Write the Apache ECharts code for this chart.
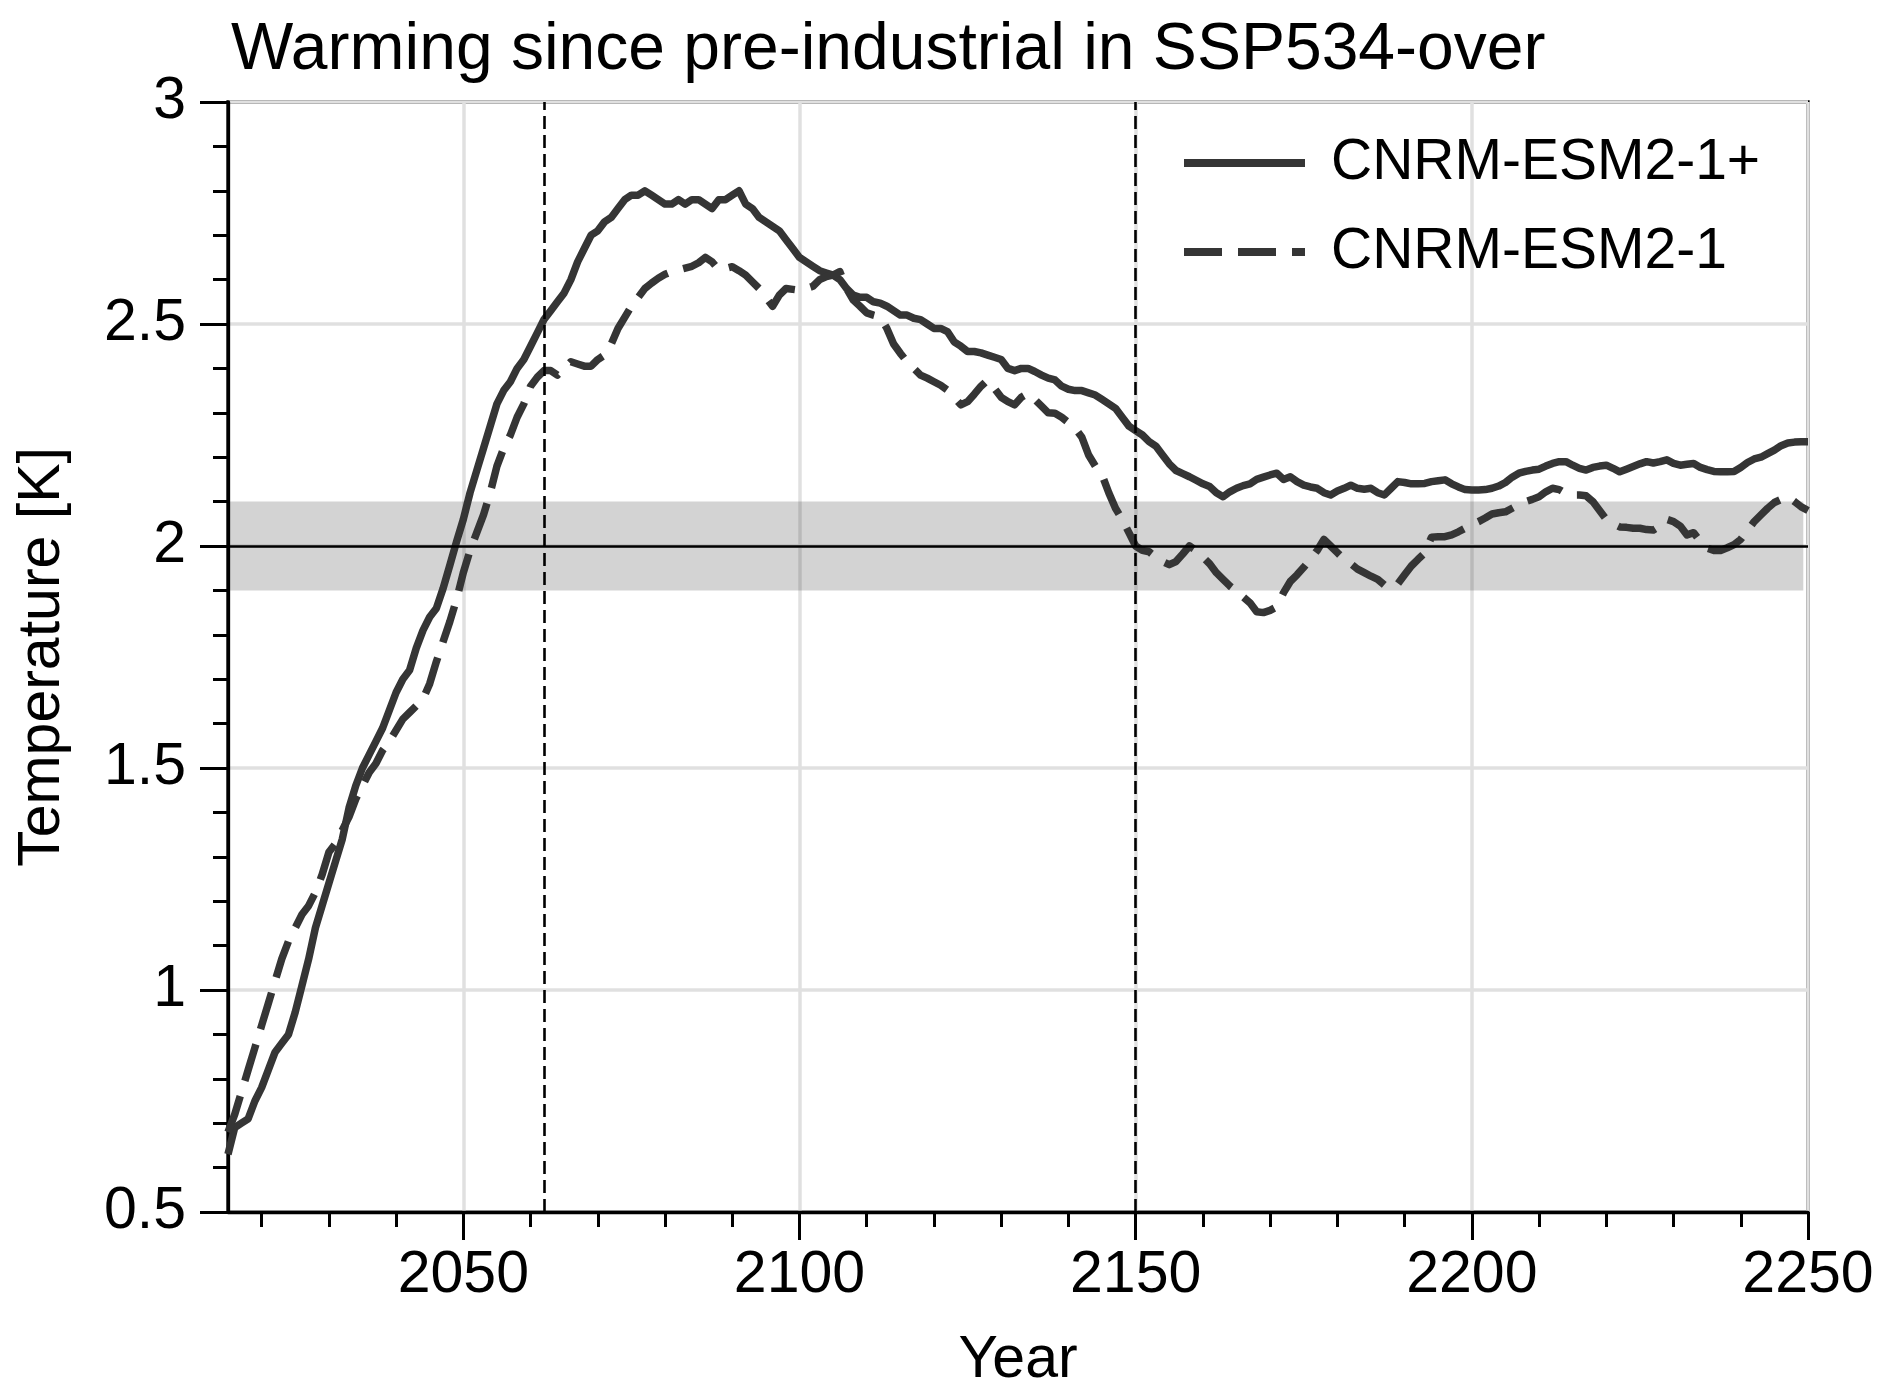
<!DOCTYPE html>
<html>
<head>
<meta charset="utf-8">
<script src="https://cdn.jsdelivr.net/npm/echarts@6/dist/echarts.min.js"></script>
<style>
  html, body { margin: 0; padding: 0; background: #fff; }
  #chart { width: 1892px; height: 1400px; }
</style>
</head>
<body>
<div id="chart"></div>
<script>
// ---- Data ----
const startYear = 2015;           // first year of both series (annual values)
const seriesNames = ['CNRM-ESM2-1+', 'CNRM-ESM2-1'];

// CNRM-ESM2-1+ (solid), 2015..2250
const tempPlus = [
  0.63, 0.69, 0.70, 0.71, 0.75, 0.78, 0.82, 0.86, 0.88, 0.90,
  0.95, 1.01, 1.07, 1.14, 1.19, 1.24, 1.29, 1.34, 1.41, 1.46,
  1.50, 1.53, 1.56, 1.59, 1.63, 1.67, 1.70, 1.72, 1.77, 1.81,
  1.84, 1.86, 1.905, 1.957, 2.01, 2.06, 2.12, 2.17, 2.22, 2.27,
  2.32, 2.35, 2.37, 2.40, 2.42, 2.45, 2.48, 2.51, 2.53, 2.55,
  2.57, 2.60, 2.64, 2.67, 2.70, 2.71, 2.73, 2.74, 2.76, 2.78,
  2.79, 2.79, 2.80, 2.79, 2.78, 2.77, 2.77, 2.78, 2.77, 2.78,
  2.78, 2.77, 2.76, 2.78, 2.78, 2.79, 2.80, 2.77, 2.76, 2.74,
  2.73, 2.72, 2.71, 2.69, 2.67, 2.65, 2.64, 2.63, 2.62, 2.615,
  2.61, 2.60, 2.58, 2.565, 2.56, 2.56, 2.55, 2.547, 2.54, 2.53,
  2.52, 2.52, 2.513, 2.51, 2.50, 2.49, 2.49, 2.483, 2.46, 2.45,
  2.438, 2.438, 2.435, 2.43, 2.425, 2.42, 2.40, 2.395, 2.40, 2.40,
  2.393, 2.385, 2.378, 2.374, 2.36, 2.353, 2.35, 2.35, 2.345, 2.34,
  2.33, 2.32, 2.31, 2.29, 2.27, 2.26, 2.25, 2.235, 2.225, 2.205,
  2.185, 2.17, 2.163, 2.156, 2.148, 2.14, 2.134, 2.12, 2.111, 2.122,
  2.13, 2.136, 2.14, 2.15, 2.155, 2.16, 2.164, 2.15, 2.156, 2.145,
  2.137, 2.133, 2.13, 2.12, 2.115, 2.124, 2.13, 2.137, 2.13, 2.128,
  2.13, 2.12, 2.115, 2.13, 2.145, 2.143, 2.14, 2.14, 2.141, 2.145,
  2.147, 2.149, 2.14, 2.133, 2.127, 2.126, 2.126, 2.127, 2.13, 2.135,
  2.143, 2.155, 2.164, 2.168, 2.171, 2.173, 2.18, 2.186, 2.19, 2.19,
  2.182, 2.175, 2.171, 2.177, 2.18, 2.182, 2.175, 2.167, 2.173, 2.179,
  2.185, 2.19, 2.187, 2.19, 2.194, 2.186, 2.182, 2.184, 2.186, 2.177,
  2.172, 2.168, 2.167, 2.167, 2.168, 2.177, 2.188, 2.196, 2.20, 2.208,
  2.216, 2.226, 2.232, 2.234, 2.235, 2.235
];

// CNRM-ESM2-1 (dashed), 2015..2250
const tempBase = [
  0.68, 0.72, 0.77, 0.82, 0.87, 0.92, 0.97, 1.02, 1.07, 1.11,
  1.14, 1.17, 1.19, 1.22, 1.26, 1.31, 1.33, 1.36, 1.39, 1.43,
  1.46, 1.49, 1.51, 1.54, 1.56, 1.585, 1.61, 1.625, 1.64, 1.655,
  1.69, 1.74, 1.785, 1.83, 1.88, 1.94, 1.99, 2.03, 2.07, 2.12,
  2.18, 2.22, 2.25, 2.29, 2.32, 2.36, 2.38, 2.395, 2.395, 2.385,
  2.40, 2.415, 2.41, 2.405, 2.405, 2.42, 2.43, 2.455, 2.49, 2.515,
  2.54, 2.56, 2.58, 2.592, 2.603, 2.612, 2.618, 2.622, 2.626, 2.63,
  2.638, 2.65, 2.64, 2.622, 2.625, 2.629, 2.62, 2.61, 2.595, 2.58,
  2.56, 2.54, 2.565, 2.58, 2.578, 2.576, 2.58, 2.585, 2.60, 2.607,
  2.61, 2.618, 2.58, 2.554, 2.54, 2.525, 2.52, 2.516, 2.49, 2.455,
  2.434, 2.415, 2.40, 2.385, 2.378, 2.37, 2.362, 2.351, 2.335, 2.318,
  2.325, 2.342, 2.36, 2.374, 2.355, 2.335, 2.325, 2.318, 2.335, 2.344,
  2.33, 2.315, 2.30, 2.299, 2.29, 2.278, 2.265, 2.245, 2.205, 2.18,
  2.16, 2.12, 2.085, 2.06, 2.03, 2.00, 1.99, 1.987, 1.975, 1.965,
  1.958, 1.965, 1.982, 2.0, 1.99, 1.975, 1.96, 1.94, 1.925, 1.91,
  1.898, 1.885, 1.872, 1.852, 1.85, 1.855, 1.863, 1.895, 1.92, 1.935,
  1.952, 1.97, 1.99, 2.015, 2.0, 1.985, 1.97, 1.96, 1.948, 1.94,
  1.932, 1.925, 1.912, 1.905, 1.915, 1.935, 1.955, 1.97, 1.984, 2.02,
  2.021, 2.021, 2.025, 2.032, 2.04, 2.048, 2.055, 2.063, 2.072, 2.075,
  2.077, 2.085, 2.093, 2.10, 2.105, 2.111, 2.122, 2.13, 2.127, 2.118,
  2.115, 2.115, 2.113, 2.10, 2.08, 2.06, 2.05, 2.043, 2.042, 2.04,
  2.04, 2.037, 2.036, 2.045, 2.06, 2.055, 2.045, 2.025, 2.03, 2.01,
  1.995, 1.99, 1.99, 1.996, 2.003, 2.015, 2.035, 2.055, 2.07, 2.085,
  2.098, 2.105, 2.111, 2.1, 2.088, 2.08
];

const xMajorTicks = [2050, 2100, 2150, 2200, 2250];
const xRange = [2015, 2250];
const yRange = [0.5, 3];
const targetLevel = 2.0;
const targetBand = [1.9, 2.1];
const bandEndYear = 2249.3;
const markerYears = [2062, 2150];
const titleText = 'Warming since pre-industrial in SSP534-over';

// ---- Chart ----
const FONT = "'Liberation Sans', Arial, Helvetica, sans-serif";
const LINE = '#353535';
const toPairs = arr => arr.map((v, i) => [startYear + i, v]);

const chart = echarts.init(document.getElementById('chart'), null, { renderer: 'canvas' });

const option = {
  animation: false,
  backgroundColor: '#ffffff',
  title: {
    text: titleText,
    left: 226, top: 13,
    textStyle: { fontFamily: FONT, fontSize: 66, fontWeight: 'normal', color: '#000' }
  },
  legend: {
    data: seriesNames,
    orient: 'vertical',
    left: 1180, top: 133,
    padding: 0,
    itemWidth: 121, itemHeight: 30, itemGap: 29,
    lineStyle: { width: 8 },
    itemStyle: { color: 'transparent', borderColor: 'transparent', borderWidth: 0, opacity: 0 },
    textStyle: { fontFamily: FONT, fontSize: 57, color: '#000', lineHeight: 60, padding: [0, 0, 0, 21] }
  },
  grid: {
    left: 228, right: 84, top: 102, bottom: 188,
    containLabel: false,
    outerBoundsMode: 'none',
    show: true, borderColor: '#000', borderWidth: 3.3, backgroundColor: 'transparent'
  },
  xAxis: {
    type: 'value', min: xRange[0], max: xRange[1],
    name: 'Year', nameLocation: 'middle', nameGap: 119,
    nameTextStyle: { fontFamily: FONT, fontSize: 59, color: '#000' },
    axisLine: { show: true, lineStyle: { color: '#000', width: 3.3 } },
    axisTick: { show: true, customValues: xMajorTicks, length: 28, lineStyle: { color: '#000', width: 3 } },
    minorTick: { show: true, splitNumber: 5, length: 15, lineStyle: { color: '#000', width: 3 } },
    axisLabel: { customValues: xMajorTicks, fontFamily: FONT, fontSize: 59, color: '#000', margin: 34,
                 formatter: v => String(v) },
    splitLine: { show: true, lineStyle: { color: '#e0e0e0', width: 3.5 } },
    minorSplitLine: { show: false }
  },
  yAxis: {
    type: 'value', min: yRange[0], max: yRange[1], interval: 0.5,
    name: 'Temperature [K]', nameLocation: 'middle', nameRotate: 90, nameGap: 156,
    nameTextStyle: { fontFamily: FONT, fontSize: 59, color: '#000' },
    axisLine: { show: true, lineStyle: { color: '#000', width: 3.3 } },
    axisTick: { show: true, length: 28, lineStyle: { color: '#000', width: 3 } },
    minorTick: { show: true, splitNumber: 5, length: 15, lineStyle: { color: '#000', width: 3 } },
    axisLabel: { fontFamily: FONT, fontSize: 59, color: '#000', margin: 42 },
    splitLine: { show: true, lineStyle: { color: '#e0e0e0', width: 3.5 } },
    minorSplitLine: { show: false }
  },
  series: [
    {
      name: 'band', type: 'line', data: [], z: 1, silent: true,
      markArea: {
        silent: true,
        itemStyle: { color: 'rgba(0,0,0,0.172)' },
        data: [[{ xAxis: xRange[0], yAxis: targetBand[0] }, { xAxis: bandEndYear, yAxis: targetBand[1] }]]
      },
      markLine: {
        silent: true, symbol: ['none', 'none'], label: { show: false },
        lineStyle: { color: '#000', width: 2.5, type: 'solid' },
        emphasis: { disabled: true },
        data: [{ yAxis: targetLevel }]
      }
    },
    {
      name: seriesNames[0], type: 'line', data: toPairs(tempPlus), z: 3,
      symbol: 'none', showSymbol: false, smooth: false,
      lineStyle: { color: LINE, width: 7.5, type: 'solid', join: 'round' },
      itemStyle: { color: LINE },
      emphasis: { disabled: true }
    },
    {
      name: seriesNames[1], type: 'line', data: toPairs(tempBase), z: 3,
      symbol: 'none', showSymbol: false, smooth: false,
      lineStyle: { color: LINE, width: 7.5, type: [38, 16], join: 'round' },
      itemStyle: { color: LINE },
      emphasis: { disabled: true }
    },
    {
      name: 'markers', type: 'line', data: [], z: 5, silent: true,
      markLine: {
        silent: true, symbol: ['none', 'none'], label: { show: false },
        lineStyle: { color: '#000', width: 2.6, type: [13, 6] },
        emphasis: { disabled: true },
        data: markerYears.map(y => ({ xAxis: y }))
      }
    }
  ]
};

chart.setOption(option);
</script>
</body>
</html>
